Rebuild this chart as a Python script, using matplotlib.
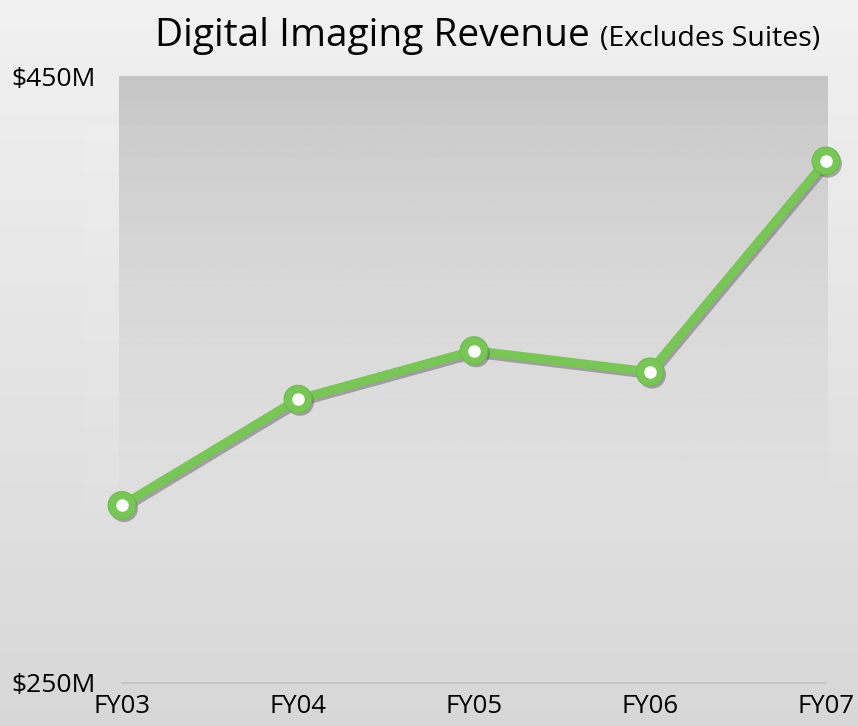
import numpy as np
import matplotlib
matplotlib.use("Agg")
import matplotlib.pyplot as plt
import matplotlib.patheffects as pe

years = ["FY03", "FY04", "FY05", "FY06", "FY07"]
revenue = [308.5, 343.5, 359.5, 352.5, 422.0]  # $M
ytick_vals = [250, 450]
ytick_labels = ["$250M", "$450M"]

W, H = 858, 726
plt.rcParams['font.family'] = ['Open Sans', 'DejaVu Sans']

fig = plt.figure(figsize=(W / 100, H / 100), dpi=100)

# background in pixel coordinates
bg = fig.add_axes([0, 0, 1, 1], zorder=0)
bg.set_xlim(0, W)
bg.set_ylim(H, 0)
bg.axis("off")
g = np.linspace(0, 1, 256)[:, None]
top = np.array([0.945, 0.945, 0.945])
bot = np.array([0.845, 0.845, 0.845])
img = top + (bot - top) * g[..., None]
bg.imshow(np.repeat(img, 2, axis=1), extent=[0, W, H, 0], aspect="auto", zorder=0)

# faint lighter box behind the panel
bg.add_patch(plt.Rectangle((83, 126), 745, 414, color="white", alpha=0.06, lw=0, zorder=1))

# panel: darker top band then fading gradient
band = np.linspace(0.775, 0.795, 64)[:, None]
bg.imshow(np.repeat(np.dstack([band, band, band]), 2, axis=1),
          extent=[119, 828, 125, 76], aspect="auto", zorder=2)
a = np.linspace(1, 0, 256)[:, None] ** 1.2
fade = np.zeros((256, 2, 4))
fade[..., :3] = 0.80
fade[..., 3] = np.repeat(a, 2, axis=1)
bg.imshow(fade, extent=[119, 828, 545, 125], aspect="auto", zorder=2)

# chart axes: x from FY03 (px 122) to FY07 (px 826), y 250 (px 683) to 450 (px 76)
ax = fig.add_axes([122 / W, 1 - 683 / H, (826 - 122) / W, (683 - 76) / H], zorder=3)
ax.patch.set_alpha(0)
ax.set_xlim(0, len(years) - 1)
ax.set_ylim(ytick_vals[0], ytick_vals[1])
for s in ax.spines.values():
    s.set_visible(False)
ax.axhline(250, color="#c4c4c4", lw=1.2, clip_on=False, zorder=1)

x = np.arange(len(years))
shadow = [pe.SimpleLineShadow(offset=(1.5, -2), shadow_color="#555555", alpha=0.45), pe.Normal()]
ax.plot(x, revenue, color="#78c655", lw=6.5, solid_capstyle="round", clip_on=False,
        zorder=4, path_effects=shadow)
ax.plot(x, revenue, "o", ms=20, color="#78c655", mec="#6cbc4a", mew=0.8,
        clip_on=False, zorder=5,
        path_effects=[pe.SimplePatchShadow(offset=(1.5, -2), shadow_rgbFace="#555555", alpha=0.45), pe.Normal()])
ax.plot(x, revenue, "o", ms=8, color="white", mec="white", clip_on=False, zorder=6)

ax.set_xticks(x)
ax.set_xticklabels(years, fontsize=18.5)
ax.set_yticks(ytick_vals)
ax.set_yticklabels(ytick_labels, fontsize=19)
ax.tick_params(length=0)
ax.tick_params(axis="x", pad=8)
ax.tick_params(axis="y", pad=19)

fig.text(155 / W, 1 - 46 / H, "Digital Imaging Revenue", fontsize=28, va="baseline", ha="left")
fig.text(600 / W, 1 - 46 / H, "(Excludes Suites)", fontsize=20.5, va="baseline", ha="left")

fig.savefig("out.png", dpi=100)
